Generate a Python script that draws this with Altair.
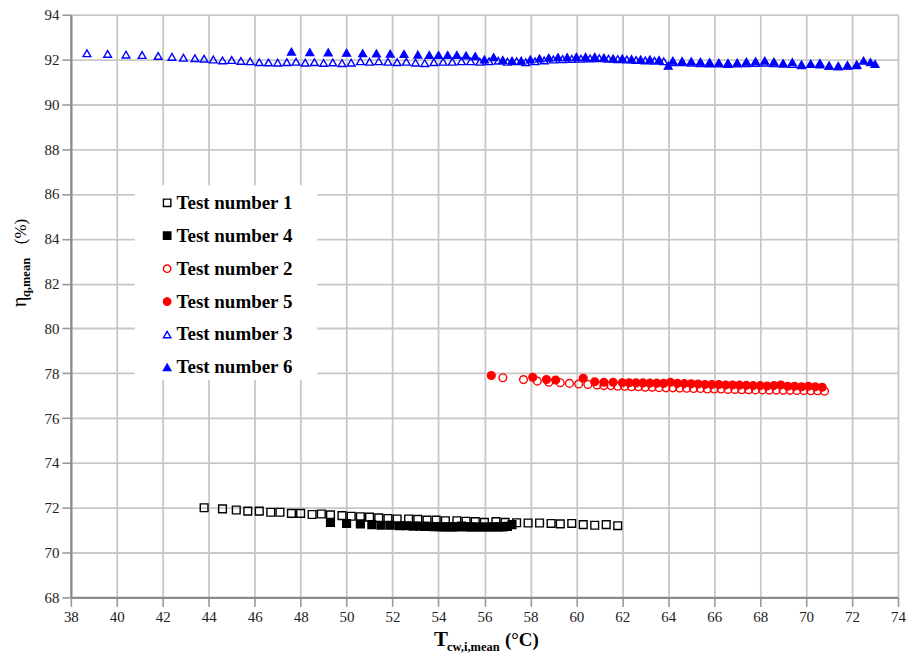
import altair as alt
import pandas as pd

# ---------------- data ----------------
t1_x = [43.8, 44.6, 45.2, 45.7, 46.2, 46.7, 47.1, 47.6, 48.0, 48.5,
        48.9, 49.3, 49.8, 50.2, 50.6, 51.0, 51.4, 51.8, 52.2, 52.7,
        53.1, 53.5, 53.9, 54.3, 54.8, 55.2, 55.6, 56.0, 56.5, 56.9,
        57.4, 57.9, 58.4, 58.9, 59.3, 59.8, 60.3, 60.8, 61.3, 61.8]
t1_y = [72.0, 71.95, 71.9, 71.85, 71.85, 71.8, 71.8, 71.75, 71.75, 71.7,
        71.72, 71.68, 71.65, 71.62, 71.6, 71.58, 71.55, 71.52, 71.5, 71.5,
        71.48, 71.45, 71.45, 71.42, 71.42, 71.4, 71.38, 71.35, 71.38, 71.35,
        71.33, 71.32, 71.32, 71.3, 71.28, 71.3, 71.25, 71.22, 71.25, 71.2]

t4_x = [49.3, 50.0, 50.6, 51.1, 51.5, 51.9, 52.3, 52.6, 52.9, 53.2,
        53.4, 53.6, 53.8, 54.0, 54.2, 54.4, 54.6, 54.8, 55.0, 55.2,
        55.4, 55.6, 55.8, 56.0, 56.2, 56.4, 56.6, 56.8, 57.0, 57.2]
t4_y = [71.35, 71.3, 71.28, 71.25, 71.22, 71.22, 71.2, 71.2, 71.18, 71.18,
        71.17, 71.17, 71.16, 71.16, 71.15, 71.15, 71.15, 71.15, 71.18, 71.15,
        71.15, 71.14, 71.14, 71.14, 71.14, 71.15, 71.15, 71.15, 71.17, 71.25]

t2_x = [56.8, 57.7, 58.3, 58.8, 59.3, 59.7, 60.1, 60.5, 60.9, 61.2,
        61.5, 61.8, 62.1, 62.4, 62.7, 63.0, 63.3, 63.6, 63.9, 64.2,
        64.5, 64.8, 65.1, 65.4, 65.7, 66.0, 66.3, 66.6, 66.9, 67.2,
        67.5, 67.8, 68.1, 68.4, 68.7, 69.0, 69.3, 69.6, 69.9, 70.2,
        70.5, 70.8]
t2_y = [77.8, 77.72, 77.65, 77.6, 77.58, 77.55, 77.52, 77.5, 77.48, 77.45,
        77.45, 77.42, 77.42, 77.4, 77.4, 77.38, 77.38, 77.36, 77.35, 77.35,
        77.34, 77.33, 77.32, 77.32, 77.3, 77.3, 77.3, 77.28, 77.28, 77.27,
        77.27, 77.26, 77.26, 77.25, 77.25, 77.24, 77.24, 77.23, 77.23, 77.22,
        77.22, 77.2]

t5_x = [56.3, 58.1, 58.7, 59.1, 60.3, 60.8, 61.2, 61.6, 62.0, 62.3,
        62.6, 62.9, 63.2, 63.5, 63.8, 64.1, 64.4, 64.7, 65.0, 65.3,
        65.6, 65.9, 66.2, 66.5, 66.8, 67.1, 67.4, 67.7, 68.0, 68.3,
        68.6, 68.9, 69.2, 69.5, 69.8, 70.1, 70.4, 70.7]
t5_y = [77.9, 77.82, 77.72, 77.7, 77.78, 77.62, 77.6, 77.6, 77.58, 77.58,
        77.57, 77.57, 77.56, 77.56, 77.55, 77.6, 77.55, 77.54, 77.53, 77.52,
        77.5, 77.5, 77.5, 77.48, 77.48, 77.47, 77.46, 77.45, 77.45, 77.43,
        77.45, 77.48, 77.42, 77.42, 77.4, 77.42, 77.4, 77.38]

t3_x = [38.7, 39.6, 40.4, 41.1, 41.8, 42.4, 42.9, 43.4, 43.8, 44.2,
        44.6, 45.0, 45.4, 45.8, 46.2, 46.6, 47.0, 47.4, 47.8, 48.2,
        48.6, 49.0, 49.4, 49.8, 50.2, 50.6, 51.0, 51.4, 51.8, 52.2,
        52.6, 53.0, 53.4, 53.8, 54.2, 54.6, 55.0, 55.4, 55.8, 56.2,
        56.6, 57.0, 57.4, 57.8, 58.2, 58.6, 59.0, 59.4, 59.8, 60.2,
        60.6, 61.0, 61.4, 61.8, 62.2, 62.6, 63.0, 63.4, 63.8, 64.2,
        64.6, 65.0, 65.4, 65.8, 66.2, 66.6, 67.0, 67.4, 67.8, 68.2,
        68.6, 69.0, 69.4, 69.8, 70.2, 70.6, 71.0, 71.4, 71.8, 72.2]
t3_y = [92.28, 92.25, 92.22, 92.2, 92.16, 92.12, 92.08, 92.06, 92.04, 92.0,
        91.96, 91.98, 91.94, 91.92, 91.88, 91.87, 91.86, 91.88, 91.9, 91.86,
        91.88, 91.85, 91.87, 91.84, 91.86, 91.92, 91.9, 91.92, 91.9, 91.88,
        91.9, 91.86, 91.84, 91.88, 91.9, 91.9, 91.92, 91.92, 91.9, 91.92,
        91.95, 91.9, 91.92, 91.88, 91.92, 91.96, 92.0, 92.02, 92.03, 92.04,
        92.05, 92.06, 92.04, 92.02, 92.0, 91.98, 91.96, 91.95, 91.92, 91.88,
        91.88, 91.86, 91.84, 91.83, 91.82, 91.8, 91.82, 91.84, 91.85, 91.86,
        91.84, 91.82, 91.8, 91.78, 91.8, 91.78, 91.72, 91.7, 91.72, 91.75]

t6_x = [47.6, 48.4, 49.2, 50.0, 50.7, 51.3, 51.9, 52.5, 53.1, 53.6,
        54.0, 54.4, 54.8, 55.2, 55.6, 56.0, 56.4, 56.8, 57.2, 57.6,
        58.0, 58.4, 58.8, 59.2, 59.6, 60.0, 60.4, 60.8, 61.2, 61.6,
        62.0, 62.4, 62.8, 63.2, 63.6, 64.0, 64.2, 64.6, 65.0, 65.4,
        65.8, 66.2, 66.6, 67.0, 67.4, 67.8, 68.2, 68.6, 69.0, 69.4,
        69.8, 70.2, 70.6, 71.0, 71.4, 71.8, 72.2, 72.5, 72.8, 73.0]
t6_y = [92.35, 92.33, 92.32, 92.3, 92.28, 92.27, 92.26, 92.25, 92.22, 92.2,
        92.2, 92.2, 92.2, 92.18, 92.15, 92.0, 92.1, 91.98, 91.95, 91.95,
        92.0, 92.05, 92.08, 92.1, 92.1, 92.12, 92.12, 92.12, 92.08, 92.05,
        92.05, 92.02, 92.0, 92.0, 91.98, 91.72, 91.95, 91.93, 91.92, 91.9,
        91.88, 91.86, 91.85, 91.86, 91.9, 91.92, 91.95, 91.9, 91.82, 91.88,
        91.75, 91.8, 91.85, 91.72, 91.7, 91.75, 91.78, 91.95, 91.88, 91.8]

series_names = ["Test number 1", "Test number 2", "Test number 3",
                "Test number 4", "Test number 5", "Test number 6"]
legend_order = ["Test number 1", "Test number 4", "Test number 2",
                "Test number 5", "Test number 3", "Test number 6"]
x_ticks = list(range(38, 75, 2))
y_ticks = list(range(68, 95, 2))

# ---------------- table ----------------
rows = []
for name, xs, ys in [("Test number 1", t1_x, t1_y),
                     ("Test number 2", t2_x, t2_y),
                     ("Test number 3", t3_x, t3_y),
                     ("Test number 4", t4_x, t4_y),
                     ("Test number 5", t5_x, t5_y),
                     ("Test number 6", t6_x, t6_y)]:
    for i, (xv, yv) in enumerate(zip(xs, ys)):
        rows.append({"test": name, "T": xv, "eta": yv,
                     "idx": series_names.index(name) * 1000 + i})
df = pd.DataFrame(rows)

colors = ["black", "black", "#ff0000", "#ff0000", "#0000ff", "#0000ff"]
shapes = ["square", "square", "circle", "circle", "triangle-up", "triangle-up"]
fills = ["transparent", "black", "transparent", "#ff0000", "transparent", "#0000ff"]

W, H = 829, 584
L = 63  # left padding (plot area starts at page x = 8 + L)
serif = "Liberation Serif"

points = alt.Chart(df).mark_point(size=60, strokeWidth=1.4, opacity=1).encode(
    x=alt.X("T:Q", scale=alt.Scale(domain=[38, 74], nice=False),
            axis=alt.Axis(values=x_ticks, title=None)),
    y=alt.Y("eta:Q", scale=alt.Scale(domain=[68, 94], nice=False),
            axis=alt.Axis(values=y_ticks, title=None)),
    color=alt.Color("test:N", scale=alt.Scale(domain=legend_order, range=colors),
                    legend=alt.Legend(title=None, orient="none", legendX=87, legendY=179,
                                      labelFont=serif, labelFontSize=19, labelFontWeight="bold",
                                      labelColor="black", rowPadding=13, labelOffset=0,
                                      symbolSize=55, symbolStrokeWidth=1.4, padding=0)),
    shape=alt.Shape("test:N", scale=alt.Scale(domain=legend_order, range=shapes)),
    fill=alt.Fill("test:N", scale=alt.Scale(domain=legend_order, range=fills)),
    order=alt.Order("idx:Q"),
)

one = pd.DataFrame({"k": [0]})

box = alt.Chart(one).mark_rect(color="white").encode(
    x=alt.value(64), x2=alt.value(247), y=alt.value(171), y2=alt.value(366))

def txt(s, x, y, size, weight="normal", angle=0, align="left"):
    return alt.Chart(one).mark_text(
        text=s, font=serif, fontSize=size, fontWeight=weight, angle=angle,
        align=align, baseline="alphabetic", color="black").encode(
        x=alt.value(x), y=alt.value(y))

x_title = [
    txt("T", 364, 633, 21, "bold"),
    txt("cw,i,mean", 377, 638, 12.5, "bold"),
    txt("(°C)", 435, 633, 19, "bold"),
]
y_title = [
    txt("η", -45, 293, 20, "normal", 270),
    txt("q,mean", -41, 283, 12.5, "bold", 270),
    txt("(%)", -45, 230, 17, "normal", 270),
]

chart = alt.layer(box, points, *x_title, *y_title).properties(
    width=W, height=H,
    autosize=alt.AutoSizeParams(type="none"),
    padding={"left": L, "top": 6, "right": 8, "bottom": 58},
).configure_view(stroke=None).configure_axis(
    labelFont=serif, labelFontSize=15, labelColor="#222", labelFlush=False,
    gridColor="#c8c8c8", gridWidth=1.8,
    domainColor="#8a8a8a", domainWidth=2.2,
    tickColor="#9a9a9a", tickSize=9, tickWidth=1.6,
    labelPadding=3,
)

chart.save("out.html", embed_options={"renderer": "svg", "actions": False})
